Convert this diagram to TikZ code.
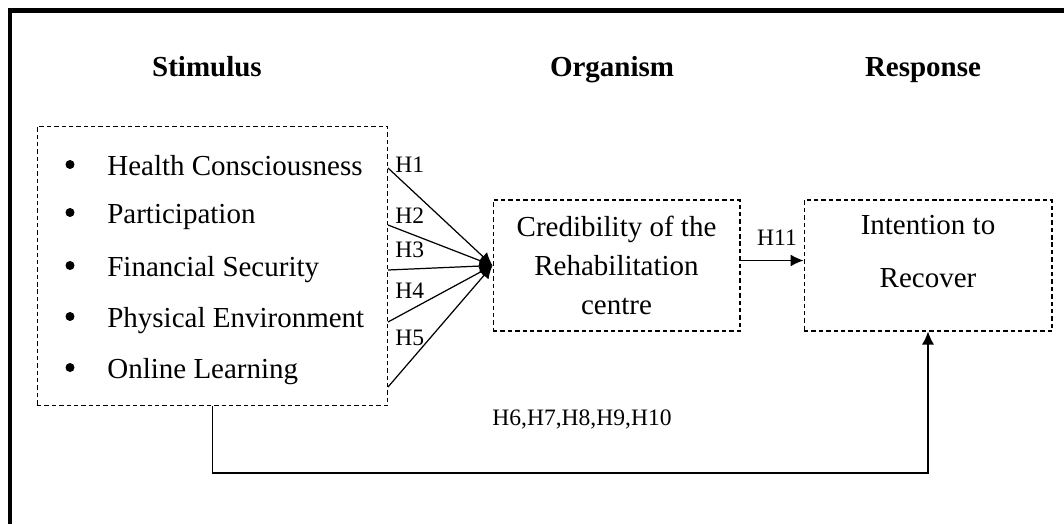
\documentclass[tikz,border=0pt]{standalone}
\usepackage{fontspec}
\setmainfont{Liberation Serif}
\usetikzlibrary{arrows.meta,calc,positioning}
\tikzset{%
	box/.style      = {draw, rectangle, dash pattern=on 2.5pt off 1.7pt, line width=0.6pt, inner sep=0pt},
	heading/.style  = {font=\fontsize{16.5}{20}\selectfont\bfseries, anchor=base, inner sep=0pt},
	item/.style     = {font=\fontsize{16.5}{20}\selectfont, anchor=base west, inner sep=0pt}, % list entry
	hyp/.style      = {font=\fontsize{13.4}{16}\selectfont, anchor=base west, inner sep=0pt}, % hypothesis
	arrow/.style    = {line width=0.7pt, -{Latex[length=0.26cm,width=0.24cm]}},
	waypoint/.style = {coordinate},
}

\begin{document}
\begin{tikzpicture}[x=0.02cm, y=-0.02cm]
	\useasboundingbox (0,0) rectangle (1064,524);
	\draw[line width=2.3pt] (10,524) -- (10,10.5) -- (1064,10.5);
	
	\node[heading] (stimH) at (207,76) {Stimulus};
	\node[heading] (orgH) at (612,76) {Organism};
	\node[heading] (resH) at (923,76) {Response};
	
	\node[box, minimum width=7.02cm, minimum height=5.58cm] (stim) at (212.5,266) {};
	\node[box, minimum width=4.94cm, minimum height=2.62cm, align=center, font=\fontsize{16.5}{22.2}\selectfont] (cred) at (616.5,265.5) {Credibility of the\\Rehabilitation\\centre};
	\node[box, minimum width=4.96cm, minimum height=2.62cm] (int) at (928,265.5) {};
	\node[item, anchor=center, align=center] (intT) at (928,252) {Intention to\\[10.2pt]Recover};
	
	\foreach \y/\txt [count=\i] in {175/Health Consciousness, 223/Participation, 276/Financial Security, 327/Physical Environment, 378/Online Learning} {
		\node[item] (it\i) at (107,\y) {\txt};
		\fill (70,\y-10.5) circle (0.09cm);
	}
	
	\foreach \y/\h/\ly [count=\i] in {168/H1/172, 225/H2/223, 270/H3/257, 322/H4/298, 387/H5/345} {
		\coordinate (s\i) at (388,\y);
		\draw[arrow] (s\i) -- (cred.west);
		\node[hyp] (h\i) at (395,\ly) {\h};
	}
	
	\draw[arrow] ($(cred.east)+(0,-5)$) -- ($(int.west)+(0,-5)$);
	\node[hyp, anchor=base] (h11) at (777,245) {H11};
	
	\node[waypoint] (low) at (0,473) {};
	\draw[arrow] (stim.south) |- (low -| int.south) -- (int.south);
	\node[hyp, anchor=base] (hlow) at (582,425) {H6,H7,H8,H9,H10};
\end{tikzpicture}
\end{document}
